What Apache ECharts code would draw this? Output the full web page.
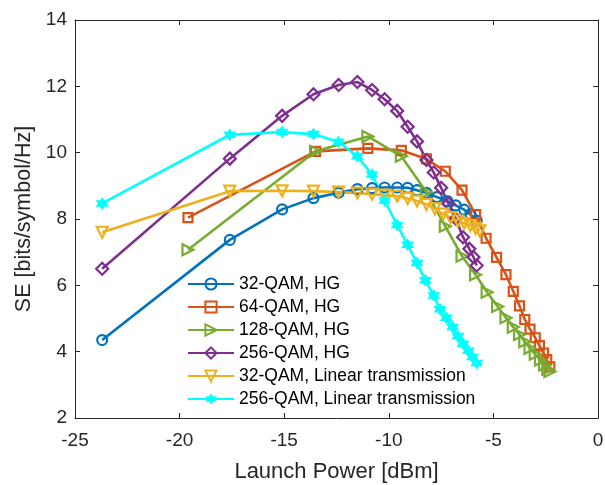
<!DOCTYPE html>
<html>
<head>
<meta charset="utf-8">
<script src="https://cdn.jsdelivr.net/npm/echarts@6/dist/echarts.min.js"></script>
<style>
html, body { margin: 0; padding: 0; background: #fff; }
#plot { width: 605px; height: 485px; }
</style>
</head>
<body>
<div id="plot"></div>
<script>
// values
var qam32HG_x = [-23.7, -17.6, -15.1, -13.6, -12.4, -11.5, -10.8, -10.2, -9.6, -9.1, -8.65, -8.2, -7.7, -7.2, -6.8, -6.4, -6.1, -5.8];
var qam32HG_y = [4.35, 7.37, 8.29, 8.63, 8.79, 8.90, 8.93, 8.95, 8.95, 8.94, 8.87, 8.79, 8.66, 8.54, 8.41, 8.28, 8.14, 7.95];

var qam64HG_x = [-19.6, -13.5, -11.0, -9.4, -8.2, -7.3, -6.5, -5.85, -5.35, -4.85, -4.4, -4.05, -3.75, -3.5, -3.25, -3.0, -2.8, -2.6, -2.45, -2.3];
var qam64HG_y = [8.04, 10.04, 10.13, 10.07, 9.81, 9.44, 8.87, 8.13, 7.42, 6.84, 6.32, 5.82, 5.38, 4.97, 4.68, 4.42, 4.18, 3.96, 3.76, 3.54];

var qam128HG_x = [-19.6, -13.5, -11.0, -9.4, -8.2, -7.3, -6.5, -5.85, -5.3, -4.8, -4.4, -4.05, -3.75, -3.5, -3.25, -3.0, -2.75, -2.55, -2.4, -2.3];
var qam128HG_y = [7.07, 10.04, 10.49, 9.89, 8.81, 7.78, 6.88, 6.32, 5.79, 5.36, 5.02, 4.74, 4.52, 4.30, 4.10, 3.92, 3.75, 3.60, 3.47, 3.40];

var qam256HG_x = [-23.7, -17.6, -15.1, -13.6, -12.4, -11.5, -10.8, -10.2, -9.6, -9.1, -8.65, -8.2, -7.85, -7.5, -7.15, -6.8, -6.45, -6.15, -5.95, -5.8];
var qam256HG_y = [6.50, 9.82, 11.11, 11.76, 12.04, 12.13, 11.89, 11.61, 11.26, 10.78, 10.34, 9.78, 9.40, 8.94, 8.46, 8.01, 7.45, 7.10, 6.85, 6.60];

var qam32Lin_x = [-23.7, -17.6, -15.1, -13.6, -12.4, -11.5, -10.8, -10.2, -9.6, -9.1, -8.65, -8.2, -7.8, -7.4, -7.05, -6.7, -6.4, -6.1, -5.85, -5.65];
var qam32Lin_y = [7.60, 8.84, 8.85, 8.84, 8.81, 8.78, 8.75, 8.72, 8.69, 8.62, 8.54, 8.44, 8.31, 8.15, 8.04, 7.94, 7.87, 7.80, 7.71, 7.64];

var qam256Lin_x = [-23.7, -17.6, -15.1, -13.6, -12.4, -11.5, -10.8, -10.2, -9.6, -9.1, -8.65, -8.25, -7.85, -7.55, -7.25, -6.95, -6.7, -6.45, -6.2, -6.0, -5.8];
var qam256Lin_y = [8.47, 10.54, 10.62, 10.56, 10.32, 9.89, 9.34, 8.56, 7.82, 7.22, 6.67, 6.15, 5.69, 5.28, 5.02, 4.74, 4.47, 4.24, 4.03, 3.84, 3.66];

var seriesNames = ['32-QAM, HG', '64-QAM, HG', '128-QAM, HG', '256-QAM, HG', '32-QAM, Linear transmission', '256-QAM, Linear transmission'];

var hexagram = 'path://M0,-10 L2.9,-5 L8.66,-5 L5.77,0 L8.66,5 L2.9,5 L0,10 L-2.9,5 L-8.66,5 L-5.77,0 L-8.66,-5 L-2.9,-5 Z';

function zip(xs, ys) {
    return xs.map(function (x, i) { return [x, ys[i]]; });
}

function makeSeries(name, xs, ys, color, symbol, size, rotate, filled) {
    return {
        name: name,
        type: 'line',
        data: zip(xs, ys),
        symbol: symbol,
        symbolSize: size,
        symbolRotate: rotate,
        showAllSymbol: true,
        lineStyle: { color: color, width: 2.6 },
        itemStyle: {
            color: filled ? color : 'rgba(255,255,255,0)',
            borderColor: color,
            borderWidth: filled ? 0 : 2.2
        },
        emphasis: { disabled: true },
        z: 2
    };
}

var charts = echarts.init(document.getElementById('plot'));
var axisCol = '#262626';
var font = 'Liberation Sans, Arial, sans-serif';

charts.setOption({
    animation: false,
    grid: { left: 75, right: 7, top: 20, bottom: 67, show: false, outerBoundsMode: 'none' },
    legend: {
        orient: 'vertical',
        left: 187,
        top: 275,
        padding: 0,
        itemWidth: 46,
        itemHeight: 14,
        itemGap: 5,
        textStyle: { fontFamily: font, fontSize: 17.5, lineHeight: 18, color: '#000' },
        data: seriesNames
    },
    xAxis: [{
        type: 'value',
        min: -25, max: 0, interval: 5,
        name: 'Launch Power [dBm]',
        nameLocation: 'middle',
        nameGap: 43,
        nameTextStyle: { fontFamily: font, fontSize: 22, color: axisCol },
        axisLine: { show: true, onZero: false, lineStyle: { color: axisCol, width: 1 } },
        axisTick: { show: true, inside: true, length: 5, lineStyle: { color: axisCol } },
        axisLabel: { fontFamily: font, fontSize: 19, color: axisCol, margin: 13 },
        splitLine: { show: false }
    }, {
        type: 'value',
        position: 'top',
        min: -25, max: 0, interval: 5,
        axisLine: { show: true, onZero: false, lineStyle: { color: axisCol, width: 1 } },
        axisTick: { show: true, inside: true, length: 5, lineStyle: { color: axisCol } },
        axisLabel: { show: false },
        splitLine: { show: false }
    }],
    yAxis: [{
        type: 'value',
        min: 2, max: 14, interval: 2,
        name: 'SE [bits/symbol/Hz]',
        nameLocation: 'middle',
        nameGap: 35,
        nameTextStyle: { fontFamily: font, fontSize: 21.5, color: axisCol },
        axisLine: { show: true, onZero: false, lineStyle: { color: axisCol, width: 1 } },
        axisTick: { show: true, inside: true, length: 5, lineStyle: { color: axisCol } },
        axisLabel: { fontFamily: font, fontSize: 19, color: axisCol, margin: 8 },
        splitLine: { show: false }
    }, {
        type: 'value',
        position: 'right',
        min: 2, max: 14, interval: 2,
        axisLine: { show: true, onZero: false, lineStyle: { color: axisCol, width: 1 } },
        axisTick: { show: true, inside: true, length: 5, lineStyle: { color: axisCol } },
        axisLabel: { show: false },
        splitLine: { show: false }
    }],
    series: [
        makeSeries(seriesNames[0], qam32HG_x, qam32HG_y, '#0072BD', 'circle', 10, 0, false),
        makeSeries(seriesNames[1], qam64HG_x, qam64HG_y, '#D95319', 'rect', 9, 0, false),
        makeSeries(seriesNames[2], qam128HG_x, qam128HG_y, '#77AC30', 'triangle', 11, -90, false),
        makeSeries(seriesNames[3], qam256HG_x, qam256HG_y, '#7E2F8E', 'diamond', 12, 0, false),
        makeSeries(seriesNames[4], qam32Lin_x, qam32Lin_y, '#EDB120', 'triangle', 11, 180, false),
        makeSeries(seriesNames[5], qam256Lin_x, qam256Lin_y, '#00FFFF', hexagram, 13, 0, true)
    ]
});
</script>
</body>
</html>
